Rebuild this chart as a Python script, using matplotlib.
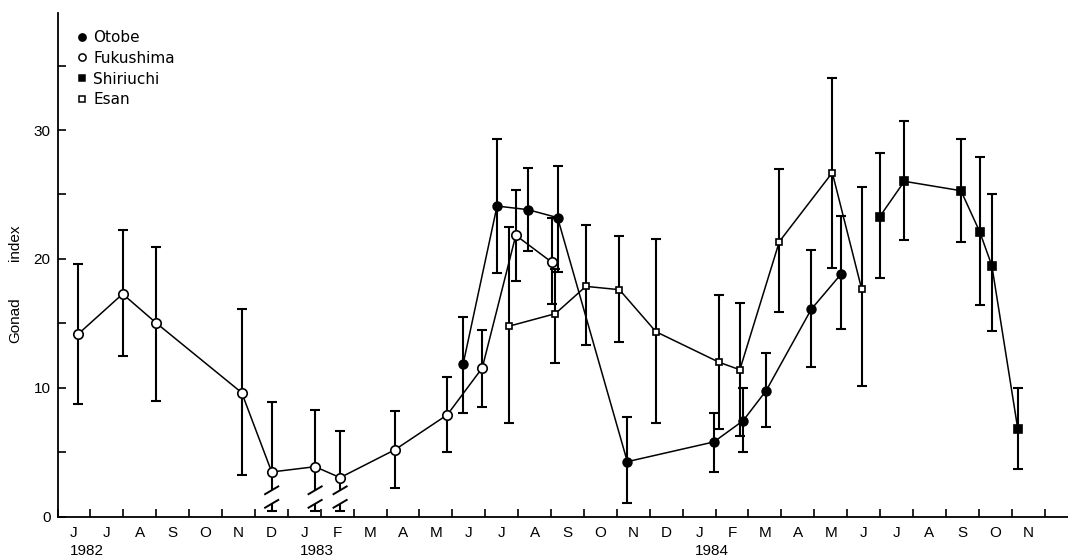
import matplotlib
matplotlib.use("Agg")
import matplotlib.pyplot as plt
from matplotlib.lines import Line2D
import numpy as np

plt.rcParams['font.family'] = ['Liberation Sans', 'DejaVu Sans']

# ---------------- data (x = months since 1 June 1982) ----------------
month_labels = ["J", "J", "A", "S", "O", "N", "D",
                "J", "F", "M", "A", "M", "J", "J", "A", "S", "O", "N", "D",
                "J", "F", "M", "A", "M", "J", "J", "A", "S", "O", "N"]
year_labels = ["1982", "1983", "1984"]
year_month_index = [0, 7, 19]

fuku_x = [0.62, 1.98, 2.99, 5.60, 6.51, 7.83, 8.59, 10.26, 11.85, 12.91, 13.93, 15.03]
fuku_y = [14.15, 17.28, 15.05, 9.62, 3.47, 3.88, 3.03, 5.20, 7.91, 11.54, 21.83, 19.73]
fuku_hi = [19.60, 22.24, 20.90, 16.14, 8.90, 8.25, 6.62, 8.20, 10.86, 14.48, 25.32, 23.15]
fuku_lo = [8.72, 12.44, 9.00, 3.24, 0.45, 0.45, 0.45, 2.23, 5.02, 8.48, 18.31, 16.50]
fuku_broken = [False, False, False, False, True, True, True, False, False, False, False, False]

otobe_x = [12.33, 13.36, 14.30, 15.20, 17.32, 19.95, 20.84, 21.54, 22.91, 23.81]
otobe_y = [11.85, 24.10, 23.82, 23.20, 4.27, 5.80, 7.45, 9.78, 16.09, 18.80]
otobe_hi = [15.49, 29.30, 27.03, 27.23, 7.71, 8.07, 9.96, 12.73, 20.67, 23.33]
otobe_lo = [8.02, 18.93, 20.64, 19.00, 1.09, 3.44, 5.00, 6.98, 11.59, 14.59]

esan_x = [13.71, 15.13, 16.06, 17.08, 18.19, 20.11, 20.74, 21.94, 23.55, 24.44]
esan_y = [14.77, 15.75, 17.87, 17.61, 14.35, 11.98, 11.40, 21.34, 26.69, 17.69]
esan_hi = [22.47, 19.20, 22.65, 21.78, 21.52, 17.20, 16.60, 26.95, 34.03, 25.55]
esan_lo = [7.24, 11.90, 13.32, 13.58, 7.24, 6.80, 6.28, 15.88, 19.27, 10.14]

shiri_x = [24.99, 25.74, 27.46, 28.03, 28.40, 29.19]
shiri_y = [23.27, 26.02, 25.29, 22.11, 19.47, 6.78]
shiri_hi = [28.22, 30.72, 29.28, 27.93, 25.01, 9.96]
shiri_lo = [18.50, 21.47, 21.34, 16.40, 14.43, 3.72]

# ---------------- figure ----------------
W, H = 1068, 559
PX_PER_MONTH = 32.9
fig = plt.figure(figsize=(W / 100, H / 100), dpi=100)
ax_left, ax_right = 57.5 / W, 1.0
ax_bottom, ax_top = (H - 516.7) / H, (H - 13) / H
ax = fig.add_axes([ax_left, ax_bottom, ax_right - ax_left, ax_top - ax_bottom])

ax.set_xlim(0, (W - 57.5) / PX_PER_MONTH)
ax.set_ylim(0, (516.7 - 13) / 12.89)

LW_LINE = 1.1
LW_ERR = 1.5
CAP = 3.5  # points
K = 'black'
cap_half_months = CAP * 100 / 72 / PX_PER_MONTH

def draw_series(x, y, lo, hi, marker, face, ms, broken=None):
    x = np.asarray(x); y = np.asarray(y); lo = np.asarray(lo); hi = np.asarray(hi)
    if broken is None:
        broken = np.zeros(len(x), dtype=bool)
    broken = np.asarray(broken)
    ax.plot(x, y, color=K, lw=LW_LINE, zorder=2)
    ok = ~broken
    ax.errorbar(x[ok], y[ok], yerr=[y[ok] - lo[ok], hi[ok] - y[ok]], fmt='none',
                ecolor=K, elinewidth=LW_ERR, capsize=CAP, capthick=LW_ERR, zorder=1)
    # broken lower whiskers (axis-break marks)
    b_hi, b_lo = 2.05, 1.0
    for xi, yi, li, hii in zip(x[broken], y[broken], lo[broken], hi[broken]):
        ax.errorbar([xi], [yi], yerr=[[0], [hii - yi]], fmt='none', ecolor=K,
                    elinewidth=LW_ERR, capsize=CAP, capthick=LW_ERR, zorder=1)
        ax.vlines(xi, b_hi, yi, color=K, lw=LW_ERR, zorder=1)
        ax.vlines(xi, li, b_lo, color=K, lw=LW_ERR, zorder=1)
        ax.plot([xi - cap_half_months, xi + cap_half_months], [li, li], color=K,
                lw=LW_ERR, solid_capstyle='butt', zorder=1)
        for yb in (b_hi, b_lo):
            ax.plot([xi - 0.2, xi + 0.2], [yb - 0.3, yb + 0.3], color=K, lw=1.4, zorder=1)
    ax.plot(x, y, linestyle='none', marker=marker, ms=ms, mfc=face, mec=K, mew=1.2, zorder=3)

draw_series(fuku_x, fuku_y, fuku_lo, fuku_hi, 'o', 'white', 6.8, fuku_broken)
draw_series(otobe_x, otobe_y, otobe_lo, otobe_hi, 'o', 'black', 6.3)
draw_series(esan_x, esan_y, esan_lo, esan_hi, 's', 'white', 5.0)
draw_series(shiri_x, shiri_y, shiri_lo, shiri_hi, 's', 'black', 5.2)

# ---------------- axes styling ----------------
for s in ('top', 'right'):
    ax.spines[s].set_visible(False)
for s in ('left', 'bottom'):
    ax.spines[s].set_linewidth(1.3)

n_months = len(month_labels)
ax.set_xticks(np.arange(0, n_months + 1))
ax.set_xticklabels([])
ax.set_xticks(np.arange(n_months) + 0.5, minor=True)
ax.set_xticklabels(month_labels, minor=True, fontsize=11)
ax.tick_params(axis='x', which='major', direction='in', length=6, width=1.2)
ax.tick_params(axis='x', which='minor', length=0, pad=7)

ax.set_yticks([0, 10, 20, 30])
ax.set_yticklabels(["0", "10", "20", "30"], fontsize=11)
ax.set_yticks([5, 15, 25, 35], minor=True)
ax.tick_params(axis='y', which='both', direction='in', length=6, width=1.2, pad=5)

for lbl, mi in zip(year_labels, year_month_index):
    ax.text(mi + 0.5 - 0.12, -0.068, lbl, transform=ax.get_xaxis_transform(),
            ha='left', va='center', fontsize=11)

fig.text(15 / W, 1 - 320 / H, "Gonad", rotation=90, ha='center', va='center', fontsize=11)
fig.text(15 / W, 1 - 243 / H, "index", rotation=90, ha='center', va='center', fontsize=11)

# ---------------- legend ----------------
handles = [
    Line2D([], [], ls='none', marker='o', ms=5.2, mfc='black', mec=K, mew=1.1),
    Line2D([], [], ls='none', marker='o', ms=5.2, mfc='white', mec=K, mew=1.1),
    Line2D([], [], ls='none', marker='s', ms=4.6, mfc='black', mec=K, mew=1.1),
    Line2D([], [], ls='none', marker='s', ms=4.6, mfc='white', mec=K, mew=1.1),
]
labels = ["Otobe", "Fukushima", "Shiriuchi", "Esan"]
ax.legend(handles, labels, loc='upper left', bbox_to_anchor=(77.3 / W, 1 - 30.0 / H),
          bbox_transform=fig.transFigure, frameon=False,
          prop={'family': ['DejaVu Sans'], 'size': 11},
          handlelength=0.6, handletextpad=0.45, borderpad=0, borderaxespad=0,
          labelspacing=0.38)

fig.savefig("out.png", dpi=100)
